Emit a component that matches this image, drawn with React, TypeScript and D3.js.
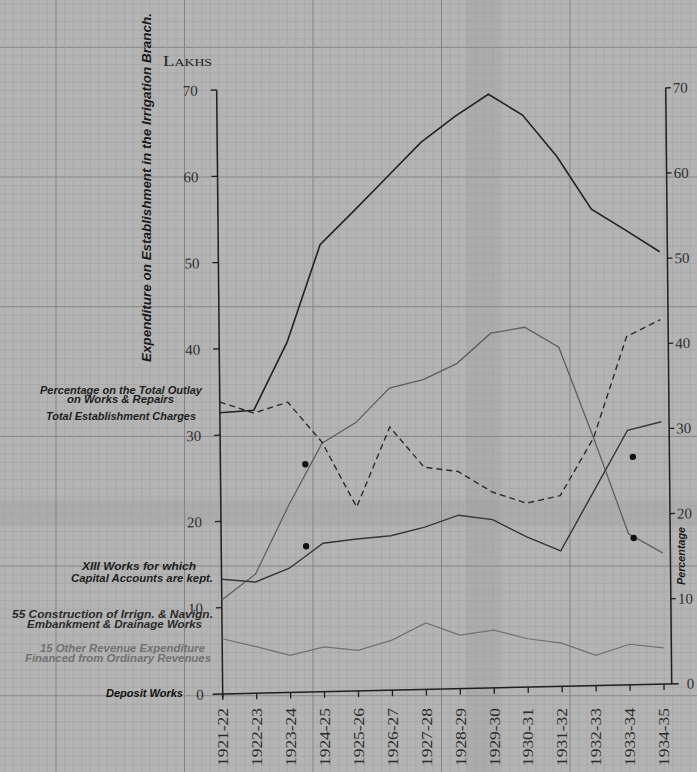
import React from "react";
import * as d3 from "d3";

// ---------- data ----------
const years = [
  "1921-22", "1922-23", "1923-24", "1924-25", "1925-26", "1926-27", "1927-28",
  "1928-29", "1929-30", "1930-31", "1931-32", "1932-33", "1933-34", "1934-35",
];
// lakhs
const totalEstablishment = [32.6, 32.8, 40.6, 51.8, 55.6, 59.5, 63.4, 66.3, 68.8, 66.3, 61.4, 55.2, 52.7, 50.1];
const constructionWorks = [10.9, 13.8, 21.7, 28.8, 31.1, 35.0, 35.9, 37.7, 41.1, 41.7, 39.3, 28.7, 17.5, 15.2];
const capitalAccountWorks = [13.3, 12.9, 14.4, 17.2, 17.6, 17.9, 18.8, 20.1, 19.5, 17.4, 15.7, 22.6, 29.5, 30.4];
const otherRevenueWorks = [6.4, 5.4, 4.3, 5.2, 4.7, 5.8, 7.7, 6.2, 6.7, 5.6, 5.0, 3.5, 4.7, 4.2];
// percentage
const outlayPercentage = [34.3, 32.9, 34.1, 29.3, 21.6, 30.9, 26.1, 25.5, 23.0, 21.6, 22.4, 29.1, 40.9, 42.8];
// isolated dots (position as fractional year index, value in lakhs)
const markerIndex = [2.5, 2.5, 12.15, 12.15];
const markerValues = [26.4, 16.9, 26.4, 17.0];

const lakhTicks = [0, 10, 20, 30, 40, 50, 60, 70];
const percentTicks = [0, 10, 20, 30, 40, 50, 60, 70];

const legendLines = [
  "Percentage on the Total Outlay",
  "on Works & Repairs",
  "Total Establishment Charges",
  "XIII Works for which",
  "Capital Accounts are kept.",
  "55 Construction of Irrign. & Navign.",
  "Embankment & Drainage Works",
  "15 Other Revenue Expenditure",
  "Financed from Ordinary Revenues",
  "Deposit Works",
];

// ---------- layout ----------
const W = 697;
const H = 772;
const OX = 222.7;
const OY = 694;
const PLOT_W = 441.3;
const RIGHT_X = 449;
const AFFINE = `matrix(1,-0.0226,0.01,1,${OX},${OY})`;

const legendLayout = [
  { x: 40, y: 393.5, len: 162, fill: "#1d1d1d" },
  { x: 67, y: 403, len: 107, fill: "#1d1d1d" },
  { x: 46, y: 420, len: 150, fill: "#1d1d1d" },
  { x: 82, y: 570, len: 114, fill: "#1d1d1d" },
  { x: 71, y: 582, len: 142, fill: "#1d1d1d" },
  { x: 12, y: 618, len: 201, fill: "#2a2a2a" },
  { x: 27, y: 628, len: 175, fill: "#2a2a2a" },
  { x: 40, y: 652, len: 165, fill: "#707070" },
  { x: 25, y: 662, len: 186, fill: "#707070" },
  { x: 106, y: 697, len: 77, fill: "#111" },
];

const SANS = "'Liberation Sans', Arial, 'DejaVu Sans', sans-serif";
const SERIF = "'Liberation Serif', 'DejaVu Serif', serif";

export default function App() {
  const x = d3.scalePoint<string>().domain(years).range([0, PLOT_W]);
  const xi = d3.scaleLinear().domain([0, years.length - 1]).range([0, PLOT_W]);
  const yL = d3.scaleLinear().domain([0, 70]).range([0, -604]);
  const yP = d3.scaleLinear().domain([0, 70]).range([0, -596]);

  const lakhLine = d3
    .line<number>()
    .x((_, i) => x(years[i]) as number)
    .y((d) => yL(d));
  const pctLine = d3
    .line<number>()
    .x((_, i) => x(years[i]) as number)
    .y((d) => yP(d));

  // graph paper
  const hLines = d3.range(-21, 70).map((k) => ({ y: 177 + k * 8.646, major: k % 15 === 0 }));
  const vLines = d3.range(-7, 76).map((k) => ({ x: 56 + k * 8.567, major: k % 15 === 0 }));

  return (
    <svg
      width={W}
      height={H}
      viewBox={`0 0 ${W} ${H}`}
      style={{ position: "absolute", left: 0, top: 0, display: "block" }}
    >
      <rect x={0} y={0} width={W} height={H} fill="#b4b4b4" />
      {/* folds */}
      <rect x={466} y={0} width={34} height={H} fill="#000" opacity={0.04} />
      <rect x={0} y={500} width={W} height={26} fill="#000" opacity={0.04} />
      <g>
        {hLines
          .filter((l) => l.y >= 0 && l.y <= H)
          .map((l, i) => (
            <line
              key={"h" + i}
              x1={0}
              x2={W}
              y1={l.y}
              y2={l.y}
              stroke={l.major ? "#848484" : "#a2a2a2"}
              strokeWidth={l.major ? 1 : 0.6}
            />
          ))}
        {vLines
          .filter((l) => l.x >= 0 && l.x <= W)
          .map((l, i) => (
            <line
              key={"v" + i}
              y1={0}
              y2={H}
              x1={l.x}
              x2={l.x}
              stroke={l.major ? "#848484" : "#a2a2a2"}
              strokeWidth={l.major ? 1 : 0.6}
            />
          ))}
      </g>

      {/* chart in the scan's slightly tilted frame */}
      <g transform={AFFINE}>
        {/* axes */}
        <line x1={0} x2={0} y1={yL(70)} y2={4} stroke="#1e1e1e" strokeWidth={1.5} />
        <line x1={-10} x2={456} y1={0} y2={0} stroke="#1e1e1e" strokeWidth={1.5} />
        <line x1={RIGHT_X} x2={RIGHT_X} y1={yP(70)} y2={0} stroke="#1e1e1e" strokeWidth={1.5} />
        {lakhTicks.map((t) => (
          <g key={"lt" + t}>
            {t > 0 && <line x1={-6} x2={0} y1={yL(t)} y2={yL(t)} stroke="#1e1e1e" strokeWidth={1.3} />}
            <text
              x={-19}
              y={yL(t)}
              dy="0.35em"
              textAnchor="end"
              fontFamily={SERIF}
              fontSize={15}
              fill="#2e2e2e"
            >
              {t}
            </text>
          </g>
        ))}
        {percentTicks.map((t) => (
          <g key={"pt" + t}>
            {t > 0 && (
              <line x1={RIGHT_X} x2={RIGHT_X + 5} y1={yP(t)} y2={yP(t)} stroke="#1e1e1e" strokeWidth={1.3} />
            )}
            <text
              x={t > 0 ? RIGHT_X + 7 : RIGHT_X + 15}
              y={yP(t)}
              dy="0.35em"
              textAnchor="start"
              fontFamily={SERIF}
              fontSize={15}
              fill="#2e2e2e"
            >
              {t}
            </text>
          </g>
        ))}
        {years.map((yr) => (
          <line
            key={"xt" + yr}
            x1={x(yr) as number}
            x2={x(yr) as number}
            y1={0}
            y2={6}
            stroke="#1e1e1e"
            strokeWidth={1.3}
          />
        ))}

        {/* series */}
        <path d={lakhLine(otherRevenueWorks) || ""} fill="none" stroke="#707070" strokeWidth={1.2} />
        <path d={lakhLine(constructionWorks) || ""} fill="none" stroke="#5e5e5e" strokeWidth={1.3} />
        <path d={lakhLine(capitalAccountWorks) || ""} fill="none" stroke="#363636" strokeWidth={1.4} />
        <path
          d={pctLine(outlayPercentage) || ""}
          fill="none"
          stroke="#2c2c2c"
          strokeWidth={1.4}
          strokeDasharray="6 4"
        />
        <path d={lakhLine(totalEstablishment) || ""} fill="none" stroke="#222" strokeWidth={1.6} />
        {markerValues.map((v, i) => (
          <circle key={"m" + i} cx={xi(markerIndex[i])} cy={yL(v)} r={3.2} fill="#111" />
        ))}
      </g>

      {/* category labels */}
      <g transform={`translate(${OX},0)`}>
        {years.map((yr) => (
          <text
            key={"xl" + yr}
            transform={`translate(${x(yr) as number},708) rotate(-90)`}
            textAnchor="end"
            dy="0.35em"
            fontFamily={SERIF}
            fontSize={15}
            fill="#2a2a2a"
            textLength={58}
            lengthAdjust="spacingAndGlyphs"
          >
            {yr}
          </text>
        ))}
      </g>

      {/* titles */}
      <text
        transform="translate(151,362) rotate(-90)"
        fontFamily={SANS}
        fontWeight="bold"
        fontStyle="italic"
        fontSize={12}
        fill="#1a1a1a"
        textLength={349}
        lengthAdjust="spacingAndGlyphs"
      >
        Expenditure on Establishment in the Irrigation Branch.
      </text>
      <text x={163} y={66} fontFamily={SERIF} fill="#222" textLength={49} lengthAdjust="spacingAndGlyphs">
        <tspan fontSize={15}>L</tspan>
        <tspan fontSize={11}>AKHS</tspan>
      </text>
      <text
        transform="translate(685,585) rotate(-90)"
        fontFamily={SANS}
        fontWeight="bold"
        fontStyle="italic"
        fontSize={10}
        fill="#1a1a1a"
        textLength={58}
        lengthAdjust="spacingAndGlyphs"
      >
        Percentage
      </text>

      {/* series labels */}
      {legendLines.map((t, i) => (
        <text
          key={"lg" + i}
          x={legendLayout[i].x}
          y={legendLayout[i].y}
          fontFamily={SANS}
          fontWeight="bold"
          fontStyle="italic"
          fontSize={10}
          fill={legendLayout[i].fill}
          textLength={legendLayout[i].len}
          lengthAdjust="spacingAndGlyphs"
        >
          {t}
        </text>
      ))}
    </svg>
  );
}
